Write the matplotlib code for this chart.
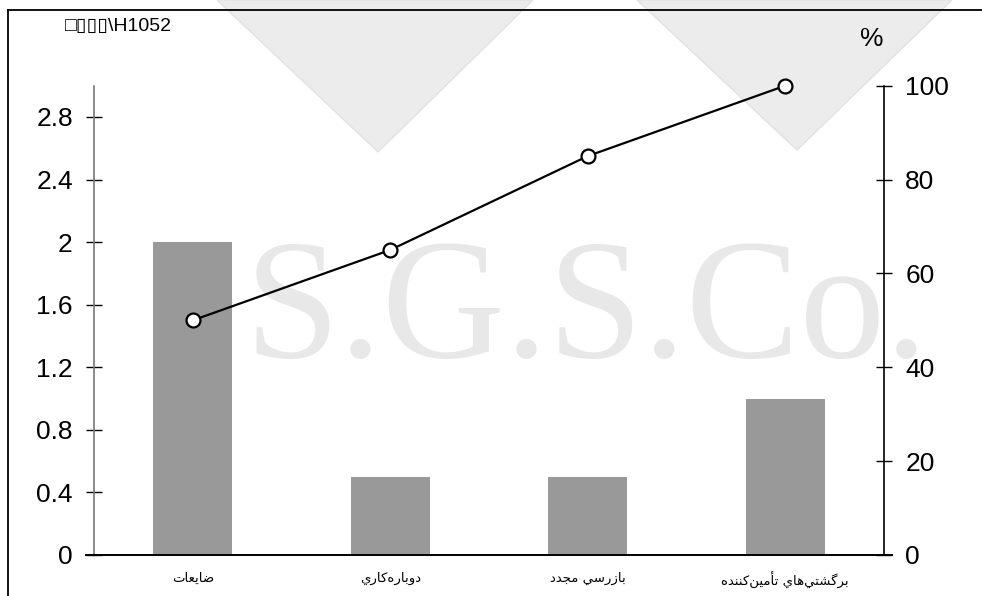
import matplotlib
matplotlib.use("Agg")
import matplotlib.pyplot as plt
from matplotlib.patches import Polygon
from matplotlib.lines import Line2D

# ---------------- data ----------------
categories = ["ضايعات", "دوباره\u200cکاري", "بازرسي مجدد", "برگشتي\u200cهاي تأمين\u200cکننده"]
bar_values = [2.0, 0.5, 0.5, 1.0]
cum_percent = [50, 65, 85, 100]
left_ticks = [0, 0.4, 0.8, 1.2, 1.6, 2.0, 2.4, 2.8]
left_tick_labels = ["0", "0.4", "0.8", "1.2", "1.6", "2", "2.4", "2.8"]
right_ticks = [0, 20, 40, 60, 80, 100]
title_text = "\u25a1\u25af\u25af\u25af\\H1052"
right_unit = "%"
watermark = "S.G.S.Co."

# --------- minimal Arabic/Persian shaping (presentation forms, visual order) ---------
FORMS = {
    "\u0627": ("\uFE8D", "\uFE8E"),
    "\u0623": ("\uFE83", "\uFE84"),
    "\u062F": ("\uFEA9", "\uFEAA"),
    "\u0631": ("\uFEAD", "\uFEAE"),
    "\u0632": ("\uFEAF", "\uFEB0"),
    "\u0648": ("\uFEED", "\uFEEE"),
    "\u0628": ("\uFE8F", "\uFE90", "\uFE91", "\uFE92"),
    "\u062A": ("\uFE95", "\uFE96", "\uFE97", "\uFE98"),
    "\u062C": ("\uFE9D", "\uFE9E", "\uFE9F", "\uFEA0"),
    "\u0633": ("\uFEB1", "\uFEB2", "\uFEB3", "\uFEB4"),
    "\u0634": ("\uFEB5", "\uFEB6", "\uFEB7", "\uFEB8"),
    "\u0636": ("\uFEBD", "\uFEBE", "\uFEBF", "\uFEC0"),
    "\u0639": ("\uFEC9", "\uFECA", "\uFECB", "\uFECC"),
    "\u0643": ("\uFED9", "\uFEDA", "\uFEDB", "\uFEDC"),
    "\u06A9": ("\uFB8E", "\uFB8F", "\uFB90", "\uFB91"),
    "\u06AF": ("\uFB92", "\uFB93", "\uFB94", "\uFB95"),
    "\u0645": ("\uFEE1", "\uFEE2", "\uFEE3", "\uFEE4"),
    "\u0646": ("\uFEE5", "\uFEE6", "\uFEE7", "\uFEE8"),
    "\u0647": ("\uFEE9", "\uFEEA", "\uFEEB", "\uFEEC"),
    "\u064A": ("\uFEF1", "\uFEF2", "\uFEF3", "\uFEF4"),
}


def shape(s):
    out = []
    n = len(s)
    for i, c in enumerate(s):
        if c not in FORMS:
            if c != "\u200c":
                out.append(c)
            continue
        f = FORMS[c]
        prev = s[i - 1] if i > 0 else None
        nxt = s[i + 1] if i < n - 1 else None
        jp = prev in FORMS and len(FORMS[prev]) == 4
        jn = nxt in FORMS and len(f) == 4
        if jp and jn:
            out.append(f[3])
        elif jp:
            out.append(f[1])
        elif jn:
            out.append(f[2])
        else:
            out.append(f[0])
    return "".join(out)[::-1]


# ---------------- figure ----------------
W, H = 982, 596
fig = plt.figure(figsize=(W / 100, H / 100), dpi=100)
fig.patch.set_facecolor("white")

# watermark triangles and text (background)
for tri in ([(217, 0), (533, 0), (378, 152)], [(637, 0), (952, 0), (797, 150)]):
    pts = [(x / W, 1 - y / H) for x, y in tri]
    fig.add_artist(Polygon(pts, closed=True, transform=fig.transFigure,
                           facecolor="#ececec", edgecolor="#e2e2e2", lw=1, zorder=-10))
fig.text(245 / W, 1 - 357 / H, watermark, family="Liberation Serif", fontsize=123,
         color="#e8e8e8", ha="left", va="baseline", zorder=-9)

# frame
fig.add_artist(Line2D([8 / W, 8 / W], [0, 1 - 10 / H], color="black", lw=1.3, transform=fig.transFigure))
fig.add_artist(Line2D([8 / W, 1], [1 - 10 / H, 1 - 10 / H], color="black", lw=1.3, transform=fig.transFigure))

left, right, bottom, top = 94 / W, 884 / W, 1 - 555 / H, 1 - 85.7 / H
ax = fig.add_axes([left, bottom, right - left, top - bottom])
ax.patch.set_visible(False)
x = list(range(len(categories)))
ax.bar(x, bar_values, width=0.4, color="#999999", zorder=2)
ax.set_xlim(-0.5, len(categories) - 0.5)
ax.set_ylim(0, 3.0)
ax.set_yticks(left_ticks)
ax.set_yticklabels(left_tick_labels, family="Liberation Sans", fontsize=19)
ax.set_xticks(x)
ax.set_xticklabels([shape(c) for c in categories], family="DejaVu Sans", fontsize=9.5)
ax.tick_params(axis="x", length=0, pad=12)
ax.tick_params(axis="y", direction="inout", length=11.5, width=1, color="black", pad=9.5)
for s in ("top", "right", "bottom"):
    ax.spines[s].set_visible(False)
ax.spines["left"].set_color("#777777")
ax.spines["left"].set_linewidth(1.2)
ax.plot([-8 / 790, 1 + 8 / 790], [0, 0], transform=ax.transAxes, color="black",
        lw=1.4, clip_on=False, zorder=5)

ax2 = ax.twinx()
ax2.patch.set_visible(False)
ax2.plot(x, cum_percent, color="black", lw=1.6, marker="o", markersize=10,
         markerfacecolor="white", markeredgecolor="black", markeredgewidth=1.6,
         zorder=6, clip_on=False)
ax2.set_ylim(0, 100)
ax2.set_yticks(right_ticks)
ax2.set_yticklabels([str(t) for t in right_ticks], family="Liberation Sans", fontsize=19)
ax2.tick_params(axis="y", direction="inout", length=11.5, width=1, color="black", pad=9.5)
for s in ("top", "left", "bottom"):
    ax2.spines[s].set_visible(False)
ax2.spines["right"].set_color("black")
ax2.spines["right"].set_linewidth(1.2)

fig.text(65 / W, 1 - 26 / H, title_text, family=["Liberation Sans", "DejaVu Sans"],
         fontsize=14, ha="left", va="center", color="black")
fig.text(872 / W, 1 - 39 / H, right_unit, family="Liberation Sans", fontsize=19,
         ha="center", va="center")

fig.savefig("out.png", dpi=100)
